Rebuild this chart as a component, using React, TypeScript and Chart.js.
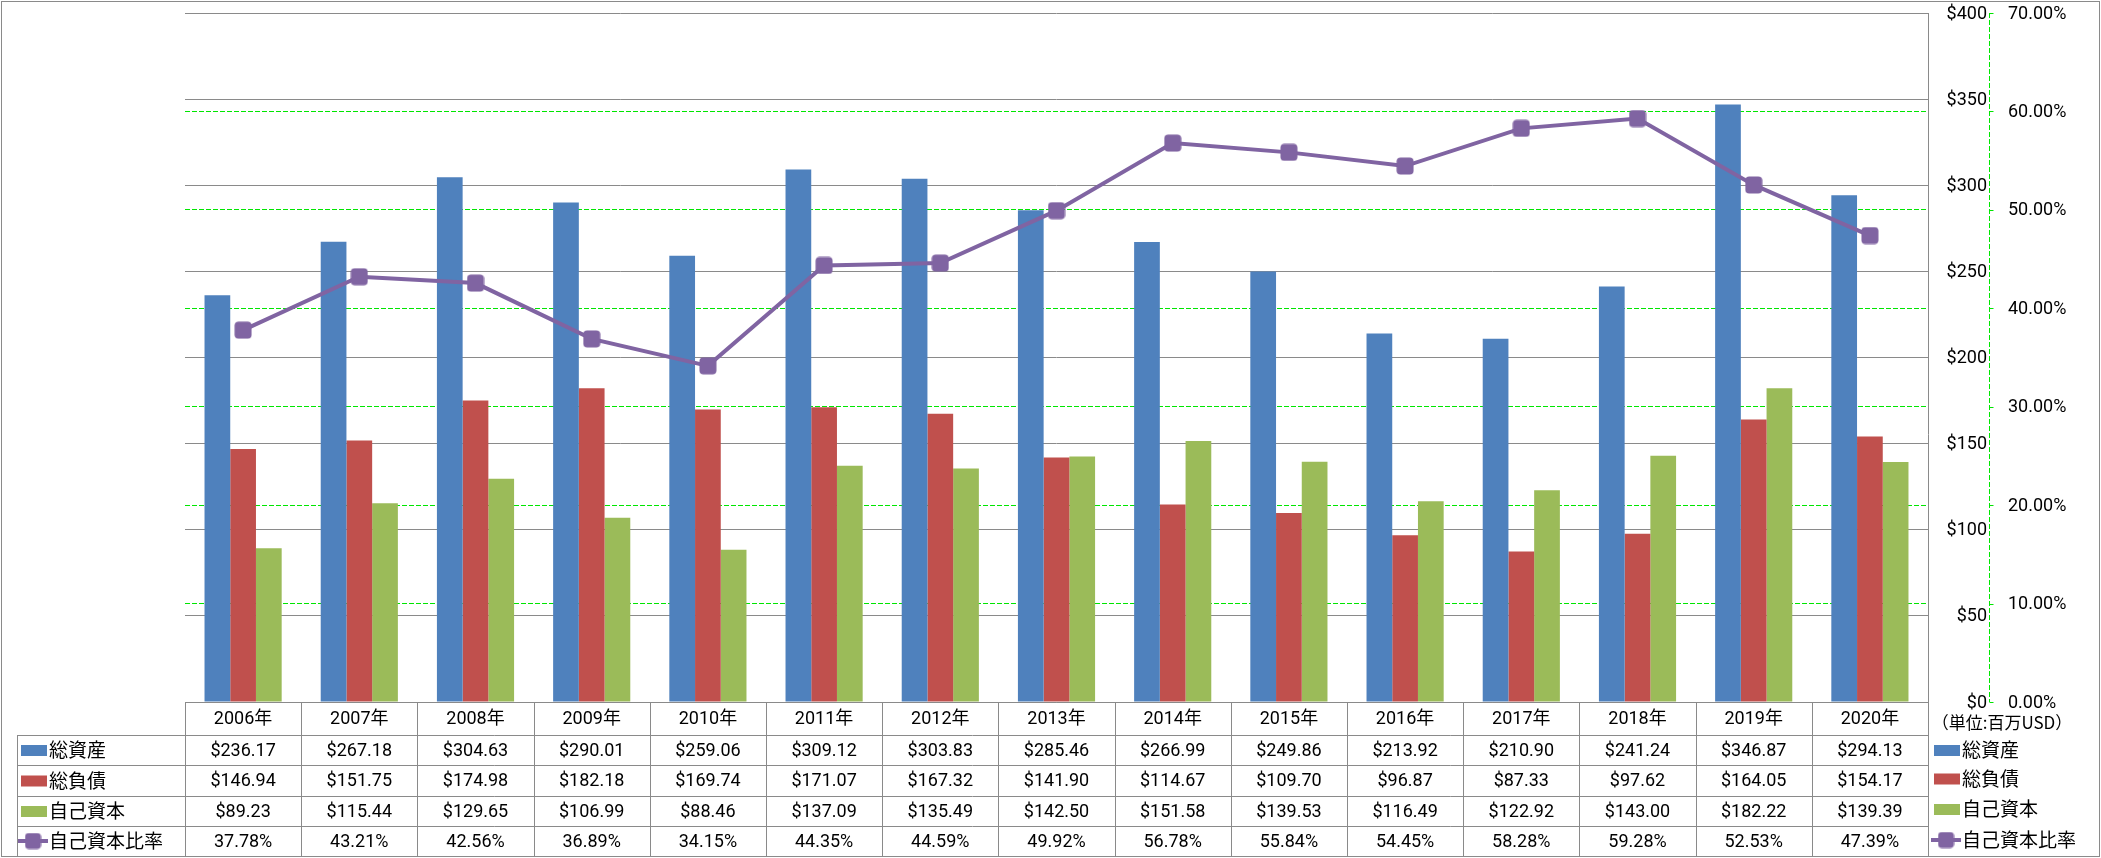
import React, { useEffect, useRef } from 'react';
import { Chart, registerables } from 'chart.js';

Chart.register(...registerables);

// ---- data ----
const years = ['2006年', '2007年', '2008年', '2009年', '2010年', '2011年', '2012年', '2013年', '2014年', '2015年', '2016年', '2017年', '2018年', '2019年', '2020年'];
const totalAssets = [236.17, 267.18, 304.63, 290.01, 259.06, 309.12, 303.83, 285.46, 266.99, 249.86, 213.92, 210.90, 241.24, 346.87, 294.13];
const totalLiabilities = [146.94, 151.75, 174.98, 182.18, 169.74, 171.07, 167.32, 141.90, 114.67, 109.70, 96.87, 87.33, 97.62, 164.05, 154.17];
const equity = [89.23, 115.44, 129.65, 106.99, 88.46, 137.09, 135.49, 142.50, 151.58, 139.53, 116.49, 122.92, 143.00, 182.22, 139.39];
const equityRatio = [37.78, 43.21, 42.56, 36.89, 34.15, 44.35, 44.59, 49.92, 56.78, 55.84, 54.45, 58.28, 59.28, 52.53, 47.39];
const seriesNames = ['総資産', '総負債', '自己資本', '自己資本比率'];
const dollarTicks = [0, 50, 100, 150, 200, 250, 300, 350, 400];
const percentTicks = [0, 10, 20, 30, 40, 50, 60, 70];
const unitLabel = '（単位:百万USD）';

// ---- styles ----
const BLUE = '#4F81BD';
const RED = '#C0504D';
const GREEN = '#9BBB59';
const PURPLE = '#8064A2';
const GRID_GRAY = '#8a8a8a';
const DASH_GREEN = '#00e600';
const NUM_FONT = '18px Roboto, "Noto Sans CJK JP", sans-serif';
const JP_FONT = '19px "Noto Sans CJK JP", sans-serif';
const UNIT_FONT = '17px "Noto Sans CJK JP", sans-serif';

function makeMarker(size: number, radius: number, color: string): HTMLCanvasElement {
  const c = document.createElement('canvas');
  c.width = size;
  c.height = size;
  const g = c.getContext('2d')!;
  g.fillStyle = color;
  g.beginPath();
  (g as any).roundRect(0.5, 0.5, size - 1, size - 1, radius);
  g.fill();
  return c;
}

export default function App() {
  const ref = useRef<HTMLCanvasElement | null>(null);

  useEffect(() => {
    document.body.style.margin = '0';
    const canvas = ref.current!;
    const marker = makeMarker(18, 4, PURPLE);
    const legendMarker = makeMarker(17, 4, PURPLE);

    const tablePlugin = {
      id: 'excelTable',
      afterDraw(chart: any) {
        const { ctx, chartArea: ca, scales } = chart;
        const xs = scales.x;
        const ys = scales.y;
        const y1s = scales.y1;
        const n = years.length;
        const colW = (ca.right - ca.left) / n;
        const W = chart.width;
        const H = chart.height;
        const keyLeft = 17;
        const rowEdges = [ca.bottom, ca.bottom + 33, ca.bottom + 63, ca.bottom + 94, ca.bottom + 124, ca.bottom + 154];
        const px = (v: number) => Math.round(v) + 0.5;

        ctx.save();
        // outer border
        ctx.strokeStyle = GRID_GRAY;
        ctx.lineWidth = 1;
        ctx.strokeRect(1.5, 1.5, W - 3, H - 3);

        // right plot border / table right edge
        ctx.beginPath();
        ctx.moveTo(px(ca.right), ca.top);
        ctx.lineTo(px(ca.right), rowEdges[5]);
        ctx.stroke();

        // table horizontal lines
        ctx.beginPath();
        ctx.moveTo(ca.left, px(rowEdges[0]));
        ctx.lineTo(ca.right, px(rowEdges[0]));
        for (let r = 1; r < 5; r++) {
          ctx.moveTo(keyLeft, px(rowEdges[r]));
          ctx.lineTo(ca.right, px(rowEdges[r]));
        }
        // table vertical lines
        for (let i = 0; i <= n; i++) {
          const xx = px(xs.getPixelForValue(i) - colW / 2);
          ctx.moveTo(xx, rowEdges[0]);
          ctx.lineTo(xx, rowEdges[5]);
        }
        ctx.moveTo(px(keyLeft), rowEdges[1]);
        ctx.lineTo(px(keyLeft), rowEdges[5]);
        ctx.stroke();

        // header + cells
        ctx.fillStyle = '#000';
        ctx.textAlign = 'center';
        ctx.textBaseline = 'middle';
        ctx.font = NUM_FONT;
        const rowsData = [totalAssets, totalLiabilities, equity, equityRatio];
        for (let i = 0; i < n; i++) {
          const cx = xs.getPixelForValue(i);
          ctx.fillText(years[i], cx, (rowEdges[0] + rowEdges[1]) / 2 + 1);
          for (let r = 0; r < 4; r++) {
            const v = rowsData[r][i];
            const txt = r < 3 ? '$' + v.toFixed(2) : v.toFixed(2) + '%';
            ctx.fillText(txt, cx, (rowEdges[r + 1] + rowEdges[r + 2]) / 2 + 1);
          }
        }

        // legend keys (table left + right side)
        const colors = [BLUE, RED, GREEN];
        const drawKey = (r: number, kx: number, cy: number) => {
          if (r < 3) {
            ctx.fillStyle = colors[r];
            ctx.fillRect(kx + 3, cy - 5, 26, 11);
          } else {
            ctx.strokeStyle = PURPLE;
            ctx.lineWidth = 4;
            ctx.beginPath();
            ctx.moveTo(kx, cy);
            ctx.lineTo(kx + 30, cy);
            ctx.stroke();
            ctx.drawImage(legendMarker, kx + 15 - legendMarker.width / 2, cy - legendMarker.height / 2);
          }
        };
        ctx.font = JP_FONT;
        ctx.textAlign = 'left';
        for (let r = 0; r < 4; r++) {
          const cy = (rowEdges[r + 1] + rowEdges[r + 2]) / 2;
          drawKey(r, keyLeft + 1, cy);
          ctx.fillStyle = '#000';
          ctx.fillText(seriesNames[r], keyLeft + 32, cy);
          const rcy = cy - (r === 0 ? 0 : r === 3 ? 1 : 2);
          drawKey(r, ca.right + 3, rcy);
          ctx.fillStyle = '#000';
          ctx.fillText(seriesNames[r], ca.right + 34, rcy);
        }

        // right axes
        const axisX = px(ca.right + 61);
        ctx.font = NUM_FONT;
        ctx.fillStyle = '#000';
        ctx.textAlign = 'right';
        dollarTicks.forEach((v) => {
          ctx.fillText('$' + v, ca.right + 59, ys.getPixelForValue(v) + 1);
        });
        ctx.textAlign = 'left';
        percentTicks.forEach((v) => {
          ctx.fillText(v.toFixed(2) + '%', ca.right + 80, y1s.getPixelForValue(v) + 1);
        });
        ctx.strokeStyle = DASH_GREEN;
        ctx.lineWidth = 1;
        ctx.setLineDash([5, 2]);
        ctx.beginPath();
        ctx.moveTo(axisX, ca.top);
        ctx.lineTo(axisX, ca.bottom);
        ctx.stroke();
        ctx.setLineDash([]);
        ctx.beginPath();
        percentTicks.forEach((v) => {
          const yy = px(y1s.getPixelForValue(v));
          ctx.moveTo(axisX, yy);
          ctx.lineTo(axisX + 4, yy);
        });
        ctx.stroke();

        // unit label
        ctx.font = UNIT_FONT;
        ctx.textAlign = 'center';
        ctx.fillStyle = '#000';
        ctx.fillText(unitLabel, ca.right + 74, ca.bottom + 21);

        ctx.restore();
      },
    };

    const chart = new Chart(canvas, {
      type: 'bar',
      data: {
        labels: years,
        datasets: [
          {
            type: 'line',
            label: seriesNames[3],
            data: equityRatio,
            yAxisID: 'y1',
            borderColor: PURPLE,
            backgroundColor: PURPLE,
            borderWidth: 4,
            pointStyle: marker as any,
            pointRadius: 9,
            tension: 0,
            order: 0,
          } as any,
          { type: 'bar', label: seriesNames[0], data: totalAssets, backgroundColor: BLUE, yAxisID: 'y', order: 1, categoryPercentage: 0.664, barPercentage: 1 },
          { type: 'bar', label: seriesNames[1], data: totalLiabilities, backgroundColor: RED, yAxisID: 'y', order: 1, categoryPercentage: 0.664, barPercentage: 1 },
          { type: 'bar', label: seriesNames[2], data: equity, backgroundColor: GREEN, yAxisID: 'y', order: 1, categoryPercentage: 0.664, barPercentage: 1 },
        ],
      },
      options: {
        responsive: false,
        devicePixelRatio: 1,
        animation: false,
        layout: { padding: { left: 185, top: 13, right: 173, bottom: 156 } },
        plugins: { legend: { display: false }, tooltip: { enabled: false } },
        scales: {
          x: {
            type: 'category',
            offset: true,
            grid: { display: false },
            border: { display: false },
            ticks: { display: false },
            afterFit: (s: any) => { s.height = 0; },
          },
          y: {
            position: 'right',
            min: 0,
            max: 400,
            ticks: { display: false, stepSize: 50 },
            grid: { color: GRID_GRAY, lineWidth: 1, drawTicks: false },
            border: { display: false },
            afterFit: (s: any) => { s.width = 0; },
          },
          y1: {
            position: 'right',
            min: 0,
            max: 70,
            ticks: { display: false, stepSize: 10 },
            grid: {
              color: (c: any) => (c.tick && (c.tick.value === 0 || c.tick.value === 70) ? 'rgba(0,0,0,0)' : DASH_GREEN),
              lineWidth: 1,
              drawTicks: false,
            },
            border: { display: false, dash: [5, 2] },
            afterFit: (s: any) => { s.width = 0; },
          },
        },
      } as any,
      plugins: [tablePlugin],
    });

    return () => chart.destroy();
  }, []);

  return (
    <div style={{ position: 'fixed', left: 0, top: 0, width: 2101, height: 858, background: '#fff', overflow: 'hidden' }}>
      <canvas ref={ref} width={2101} height={858} style={{ display: 'block' }} />
    </div>
  );
}
